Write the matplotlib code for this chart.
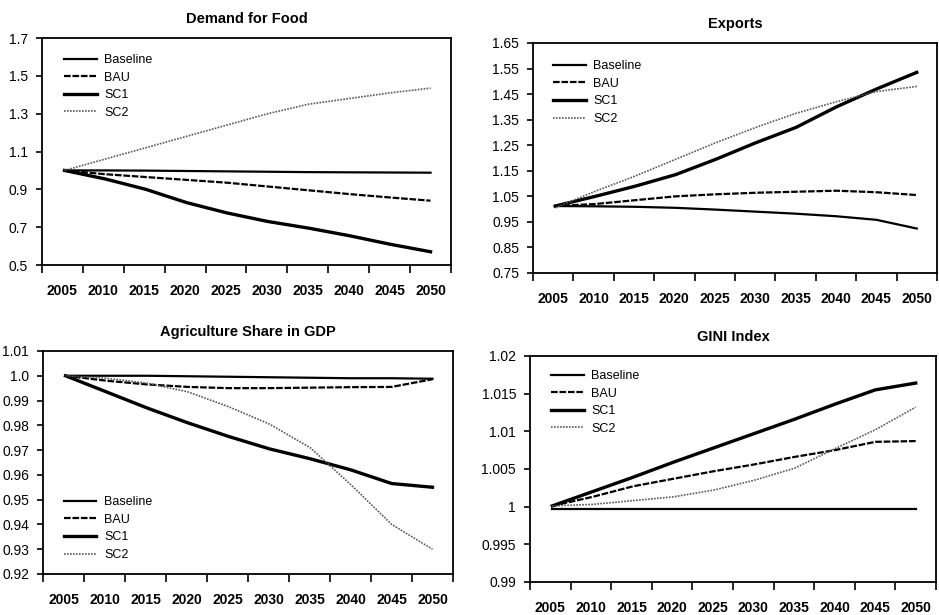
import matplotlib
matplotlib.use("Agg")
import matplotlib.pyplot as plt
from matplotlib.ticker import FixedLocator, NullFormatter

plt.rcParams['font.family'] = ['Liberation Sans', 'DejaVu Sans']

years = [2005, 2010, 2015, 2020, 2025, 2030, 2035, 2040, 2045, 2050]
year_labels = [str(y) for y in years]
scenarios = ['Baseline', 'BAU', 'SC1', 'SC2']

# Demand for Food
food_baseline = [1.0, 1.0, 0.999, 0.997, 0.995, 0.993, 0.991, 0.990, 0.989, 0.988]
food_bau = [1.0, 0.98, 0.965, 0.95, 0.935, 0.915, 0.895, 0.875, 0.857, 0.84]
food_sc1 = [1.0, 0.955, 0.90, 0.83, 0.775, 0.73, 0.695, 0.655, 0.61, 0.57]
food_sc2 = [1.0, 1.06, 1.12, 1.18, 1.24, 1.30, 1.35, 1.38, 1.41, 1.435]

# Exports
exp_baseline = [1.012, 1.011, 1.009, 1.005, 0.998, 0.99, 0.982, 0.972, 0.958, 0.924]
exp_bau = [1.012, 1.02, 1.035, 1.05, 1.058, 1.064, 1.068, 1.072, 1.066, 1.055]
exp_sc1 = [1.012, 1.05, 1.09, 1.135, 1.195, 1.26, 1.32, 1.40, 1.47, 1.535]
exp_sc2 = [1.005, 1.07, 1.13, 1.195, 1.26, 1.32, 1.375, 1.42, 1.46, 1.48]

# Agriculture Share in GDP
agr_baseline = [1.0, 1.0, 1.0, 0.9998, 0.9996, 0.9994, 0.9992, 0.999, 0.999, 0.9988]
agr_bau = [1.0, 0.998, 0.9965, 0.9955, 0.995, 0.995, 0.9952, 0.9954, 0.9955, 0.9986]
agr_sc1 = [1.0, 0.9935, 0.987, 0.981, 0.9755, 0.9705, 0.9665, 0.962, 0.9565, 0.955]
agr_sc2 = [1.0, 0.999, 0.997, 0.9935, 0.9875, 0.9805, 0.971, 0.956, 0.940, 0.930]

# GINI Index
gini_baseline = [0.9997] * 10
gini_bau = [1.0001, 1.0013, 1.0027, 1.0037, 1.0047, 1.0056, 1.0066, 1.0075, 1.0086, 1.0087]
gini_sc1 = [1.0001, 1.0020, 1.0039, 1.0059, 1.0078, 1.0097, 1.0116, 1.0136, 1.0155, 1.0164]
gini_sc2 = [1.0001, 1.0003, 1.0008, 1.0013, 1.0022, 1.0035, 1.0051, 1.0077, 1.0102, 1.0132]

styles = {
    'Baseline': dict(color='black', lw=1.6, ls='-'),
    'BAU': dict(color='black', lw=1.6, ls=(0, (3, 0.8))),
    'SC1': dict(color='black', lw=2.4, ls='-'),
    'SC2': dict(color='0.35', lw=1.2, ls=(0, (1, 0.8))),
}


def year_pos(y):
    # categories sit between boundary ticks; lines run from 2005 to 2050 inside
    return 0.55 + (y - 2005) * 8.95 / 45


def draw_panel(rect, title, series, ylim, yticks, ylabels, leg_loc, leg_anchor):
    ax = fig.add_axes(rect)
    xs = [year_pos(y) for y in years]
    for name, vals in zip(scenarios, series):
        ax.plot(xs, vals, label=name, **styles[name])
    ax.set_xlim(0, 10)
    ax.set_ylim(*ylim)
    ax.set_yticks(yticks)
    ax.set_yticklabels(ylabels, fontsize=10)
    ax.xaxis.set_major_locator(FixedLocator([i + 0.5 for i in range(10)]))
    ax.set_xticklabels(year_labels, fontsize=10, fontweight='bold')
    ax.xaxis.set_minor_locator(FixedLocator(range(11)))
    ax.xaxis.set_minor_formatter(NullFormatter())
    ax.tick_params(axis='x', which='major', length=0, pad=14)
    ax.tick_params(axis='x', which='minor', length=6, width=1.2, direction='out')
    ax.tick_params(axis='y', length=4, width=1.2, direction='out', pad=6)
    for s in ax.spines.values():
        s.set_linewidth(1.3)
    ax.set_title(title, fontsize=10.5, fontweight='bold', pad=11)
    ax.legend(loc=leg_loc, bbox_to_anchor=leg_anchor, frameon=False, fontsize=9,
              handlelength=2.6, handletextpad=0.6, labelspacing=0.45,
              borderpad=0, borderaxespad=0)
    return ax


fig = plt.figure(figsize=(9.39, 6.15), dpi=100)

draw_panel([0.0447, 0.5691, 0.4356, 0.3691], 'Demand for Food',
           [food_baseline, food_bau, food_sc1, food_sc2],
           (0.5, 1.7), [0.5, 0.7, 0.9, 1.1, 1.3, 1.5, 1.7],
           ['0.5', '0.7', '0.9', '1.1', '1.3', '1.5', '1.7'],
           'upper left', (0.054, 0.93))

draw_panel([0.5676, 0.5561, 0.4302, 0.3740], 'Exports',
           [exp_baseline, exp_bau, exp_sc1, exp_sc2],
           (0.75, 1.65), [0.75, 0.85, 0.95, 1.05, 1.15, 1.25, 1.35, 1.45, 1.55, 1.65],
           ['0.75', '0.85', '0.95', '1.05', '1.15', '1.25', '1.35', '1.45', '1.55', '1.65'],
           'upper left', (0.05, 0.926))

draw_panel([0.0458, 0.0667, 0.4366, 0.3626], 'Agriculture Share in GDP',
           [agr_baseline, agr_bau, agr_sc1, agr_sc2],
           (0.92, 1.01), [0.92, 0.93, 0.94, 0.95, 0.96, 0.97, 0.98, 0.99, 1.0, 1.01],
           ['0.92', '0.93', '0.94', '0.95', '0.96', '0.97', '0.98', '0.99', '1.0', '1.01'],
           'lower left', (0.051, 0.058))

draw_panel([0.5644, 0.0537, 0.4324, 0.3675], 'GINI Index',
           [gini_baseline, gini_bau, gini_sc1, gini_sc2],
           (0.99, 1.02), [0.99, 0.995, 1.0, 1.005, 1.01, 1.015, 1.02],
           ['0.99', '0.995', '1', '1.005', '1.01', '1.015', '1.02'],
           'upper left', (0.052, 0.938))

fig.savefig('out.png', dpi=100)
